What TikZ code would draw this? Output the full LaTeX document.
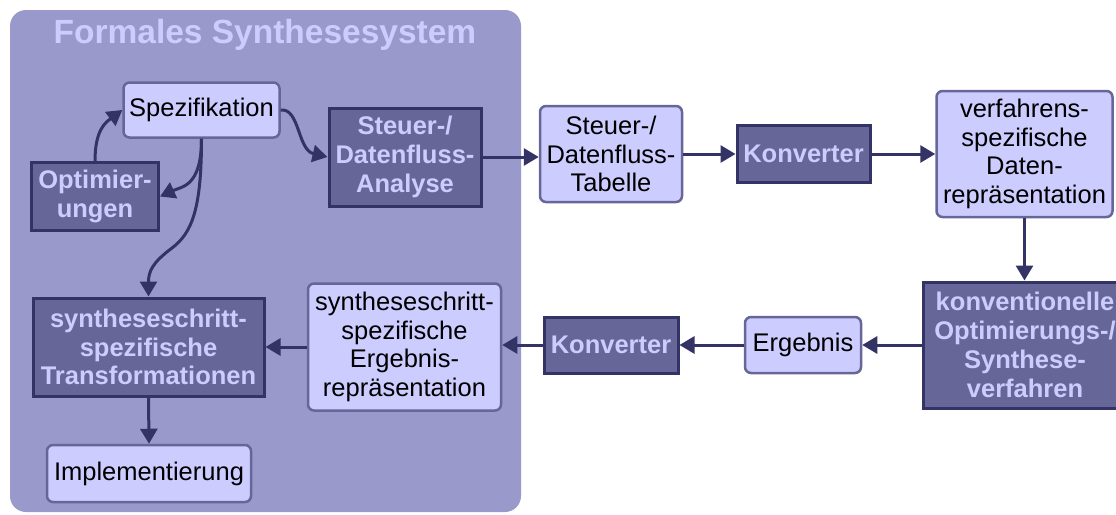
\documentclass[tikz,border=0pt]{standalone}
\usepackage{fontspec}
\setmainfont{Liberation Sans}
\usetikzlibrary{arrows.meta}
\definecolor{panel}{HTML}{9999CC}
\definecolor{lightfill}{HTML}{CCCCFF}
\definecolor{lightedge}{HTML}{666699}
\definecolor{darkfill}{HTML}{666699}
\definecolor{darkedge}{HTML}{333366}
\definecolor{palelabel}{HTML}{CCCCFF}
\begin{document}
\begin{tikzpicture}[x=1pt,y=-1pt,
  box/.style={inner sep=0pt, align=center},
  lightbox/.style={box, draw=lightedge, fill=lightfill, line width=2.5pt,
    rounded corners=6pt, text=black, font=\fontsize{25.5}{28.8}\selectfont},
  darkbox/.style={box, draw=darkedge, fill=darkfill, line width=3pt,
    text=palelabel, font=\fontsize{25.5}{28.8}\selectfont\bfseries},
  arr/.style={-{Triangle[length=15pt,width=17pt]}, line width=3pt, draw=darkedge},
]
\useasboundingbox (0,0) rectangle (1116,514);

% synthesis system panel
\fill[panel, rounded corners=16pt] (10,10) rectangle (521,512);
\node[text=palelabel, font=\fontsize{33.5}{36}\selectfont\bfseries] (title) at (265,35) {Formales Synthesesystem};

% boxes inside the panel
\node[lightbox, minimum width=156pt, minimum height=55pt] (spez) at (201.5,110) {Spezifikation};
\node[darkbox, minimum width=152pt, minimum height=98pt] (ana) at (405,157) {Steuer-/\\Datenfluss-\\Analyse};
\node[darkbox, minimum width=127pt, minimum height=68pt] (opt) at (95,196.5) {Optimier-\\ungen};
\node[darkbox, minimum width=231pt, minimum height=98pt] (trans) at (148.5,347) {syntheseschritt-\\spezifische\\Transformationen};
\node[lightbox, minimum width=193pt, minimum height=127pt] (ergrep) at (404.5,347) {syntheseschritt-\\spezifische\\Ergebnis-\\repräsentation};
\node[lightbox, minimum width=204pt, minimum height=57pt] (impl) at (149,473.5) {Implementierung};

% boxes outside the panel
\node[lightbox, minimum width=142pt, minimum height=96pt] (tab) at (611,154) {Steuer-/\\Datenfluss-\\Tabelle};
\node[darkbox, minimum width=133pt, minimum height=57pt] (konvA) at (803.5,154) {Konverter};
\node[lightbox, minimum width=176pt, minimum height=126pt] (verf) at (1024.5,154) {verfahrens-\\spezifische\\Daten-\\repräsentation};
\node[darkbox, minimum width=204pt, minimum height=126pt] (konvent) at (1025,345) {konventionelle\\Optimierungs-/\\Synthese-\\verfahren};
\node[lightbox, minimum width=116pt, minimum height=56pt] (erg) at (803,345) {Ergebnis};
\node[darkbox, minimum width=134pt, minimum height=56pt] (konvB) at (611,345) {Konverter};

% curved connectors around the specification
\draw[arr] (opt.north) .. controls +(0,-32) and +(-16,12) .. (spez.west);
\draw[arr] (spez.south) .. controls +(0,48) and +(22,-10) .. (opt.east);
\draw[arr] (spez.south) .. controls +(0,70) and +(20,-15) .. (172,248)
  .. controls +(-20,15) and +(0,-25) .. (trans.north);
\draw[arr] (spez.east) .. controls +(19,-2) and +(-30,-7) .. (ana.west);

% straight connectors
\draw[arr] (ana.east) -- (ana.east -| tab.west);
\draw[arr] (tab.east) -- (konvA.west);
\draw[arr] (konvA.east) -- (konvA.east -| verf.west);
\draw[arr] (verf.south) -- (verf.south |- konvent.north);
\draw[arr] (konvent.west) -- (erg.east);
\draw[arr] (erg.west) -- (konvB.east);
\draw[arr] (konvB.west) -- (konvB.west -| ergrep.east);
\draw[arr] (ergrep.west) -- (ergrep.west -| trans.east);
\draw[arr] (trans.south) -- (impl.north);
\end{tikzpicture}
\end{document}
